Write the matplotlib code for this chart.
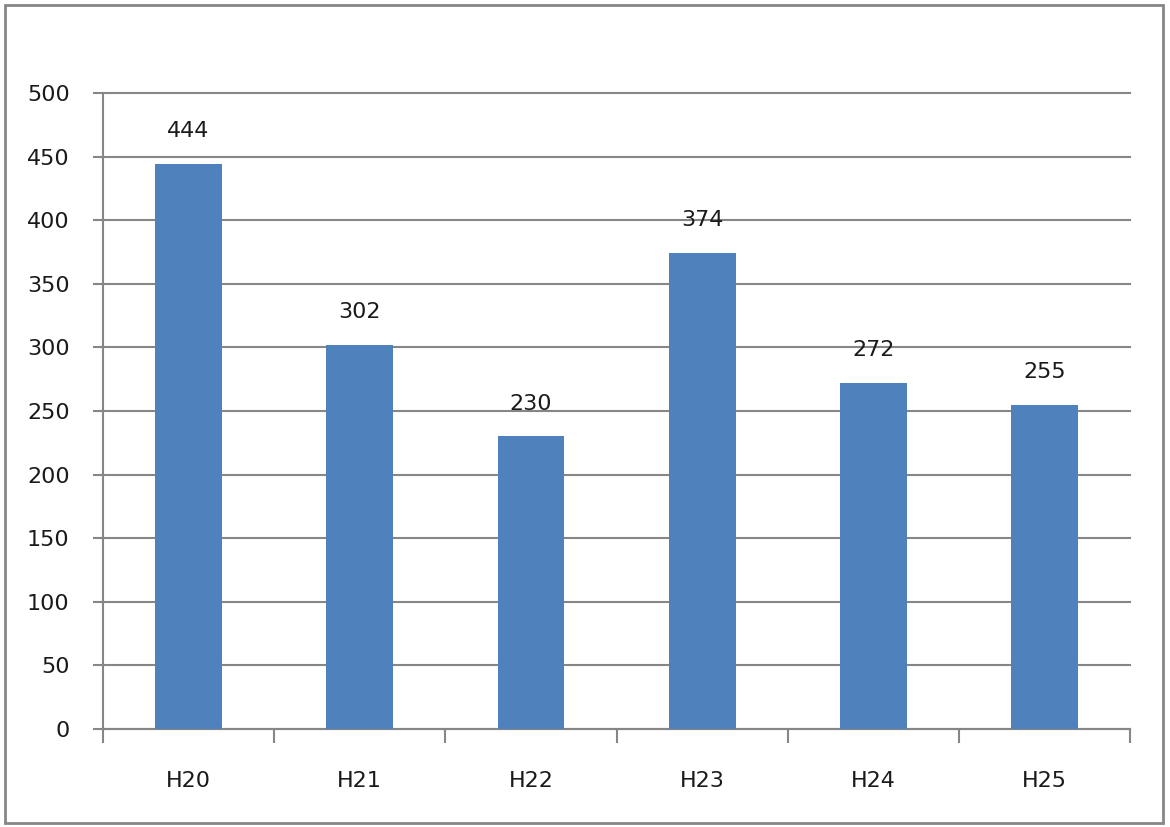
import matplotlib.pyplot as plt
from matplotlib.patches import Rectangle

# Data
years = ['H20', 'H21', 'H22', 'H23', 'H24', 'H25']
counts = [444, 302, 230, 374, 272, 255]

fig = plt.figure(figsize=(11.7, 8.27), dpi=100)
ax = fig.add_axes([0.088, 0.1185, 0.878, 0.769])

x = range(len(years))
bars = ax.bar(x, counts, width=0.39, color='#4F81BD', zorder=3)

# value labels above the bars
for b, v in zip(bars, counts):
    ax.text(b.get_x() + b.get_width() / 2, v + 18, str(v),
            ha='center', va='bottom', fontsize=16, color='#1a1a1a')

ax.set_xlim(-0.5, len(years) - 0.5)
ax.set_ylim(0, 500)
ax.set_yticks(range(0, 501, 50))
ax.set_xticks(x)
ax.set_xticklabels(years)
ax.set_xticks([i - 0.5 for i in range(len(years) + 1)], minor=True)

grid_c = '#868686'
ax.yaxis.grid(True, color=grid_c, linewidth=1.5, zorder=0)
for line in ax.get_ygridlines():
    line.set_clip_on(False)
for s in ['top', 'right']:
    ax.spines[s].set_visible(False)
ax.spines['left'].set_color(grid_c)
ax.spines['bottom'].set_color(grid_c)
ax.spines['left'].set_linewidth(1.5)
ax.spines['bottom'].set_linewidth(1.5)

ax.tick_params(axis='y', length=7, width=1.5, color=grid_c, labelsize=16,
               labelcolor='#1a1a1a', pad=17)
ax.tick_params(axis='x', which='major', length=0, labelsize=16,
               labelcolor='#1a1a1a', pad=30)
ax.tick_params(axis='x', which='minor', length=10, width=1.5, color=grid_c)

# outer chart border
fig.patches.append(Rectangle((5 / 1170, 4 / 827), 1158 / 1170, 818 / 827,
                             transform=fig.transFigure, fill=False,
                             edgecolor=grid_c, linewidth=2))

fig.savefig('out.png', dpi=100)
